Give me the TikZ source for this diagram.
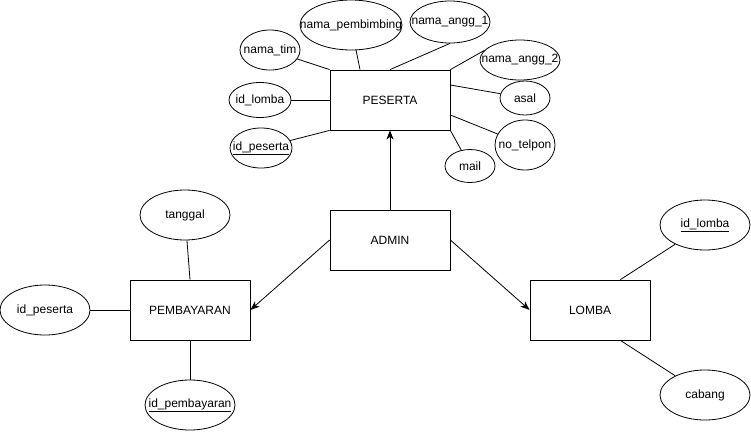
\documentclass[tikz,border=0pt]{standalone}
\usepackage{fontspec}
\setmainfont{Liberation Sans}
\usetikzlibrary{positioning, calc, shapes.geometric, arrows.meta, decorations.markings}
\tikzstyle{Arrow} = [
line width=0.8pt,
decoration={
markings,
mark=at position 0.9999 with {
\arrow[line width=0.8pt]{Stealth[length=9pt,width=7pt,inset=2.5pt]}}},
shorten >= 3pt, preaction = {decorate}]
\tikzstyle{Entity} = [rectangle, draw, line width=0.8pt,
minimum width=120pt, minimum height=60pt]
\tikzstyle{Attr} = [ellipse, draw, line width=0.8pt, inner sep=0pt]
\tikzstyle{Line} = [line width=0.8pt]

\begin{document}
\begin{tikzpicture}[x=1pt, y=-1pt, every node/.style={font=\fontsize{12}{14}\selectfont}]
    \useasboundingbox (0,0) rectangle (751,431);
    % entities
    \node [Entity] (1) at (390,100) {PESERTA};
    \node [Entity] (2) at (390,240) {ADMIN};
    \node [Entity] (3) at (190,310) {PEMBAYARAN};
    \node [Entity] (4) at (590,310) {LOMBA};
    % attributes of PESERTA
    \node [Attr, minimum width=60pt, minimum height=40pt] (5) at (270,50) {\makebox[0pt]{nama\_tim}};
    \node [Attr, minimum width=102pt, minimum height=50pt] (6) at (351,25) {\makebox[0pt]{nama\_pembimbing}};
    \node [Attr, minimum width=80pt, minimum height=42pt] (7) at (450,22) {\makebox[0pt]{nama\_angg\_1}};
    \node [Attr, minimum width=80pt, minimum height=40pt] (8) at (520,60) {\makebox[0pt]{nama\_angg\_2}};
    \node [Attr, minimum width=50pt, minimum height=34pt] (9) at (525,98) {\makebox[0pt]{asal}};
    \node [Attr, minimum width=60pt, minimum height=50pt] (10) at (525,145) {\makebox[0pt]{no\_telpon}};
    \node [Attr, minimum width=50pt, minimum height=33pt] (11) at (470,166) {\makebox[0pt]{mail}};
    \node [Attr, minimum width=62pt, minimum height=35pt] (12) at (260,100) {\makebox[0pt]{id\_lomba}};
    \node [Attr, minimum width=62pt, minimum height=40pt] (13) at (261,148) {\makebox[0pt]{\underline{id\_peserta}}};
    % attributes of PEMBAYARAN
    \node [Attr, minimum width=90pt, minimum height=50pt] (14) at (185,215) {tanggal};
    \node [Attr, minimum width=90pt, minimum height=50pt] (15) at (45,310) {id\_peserta};
    \node [Attr, minimum width=90pt, minimum height=50pt] (16) at (190,405) {\makebox[0pt]{\underline{id\_pembayaran}}};
    % attributes of LOMBA
    \node [Attr, minimum width=90pt, minimum height=50pt] (17) at (705,225) {\underline{id\_lomba}};
    \node [Attr, minimum width=90pt, minimum height=50pt] (18) at (705,395) {cabang};
    \draw [Line] (5) to (1.north west); \draw [Line] (6) to ($(1.north)+(-30,0)$);
    \draw [Line] (7.south) to (1.north); \draw [Line] (8.165) to (1.north east);
    \draw [Line] (9) to ($(1.east)+(0,-15)$); \draw [Line] (10) to ($(1.east)+(0,15)$);
    \draw [Line] (11) to (1.south east); \draw [Line] (12) to (1.west);
    \draw [Line] (13) to (1.south west);
    \draw [Line] (14) to (3.north); \draw [Line] (15) to (3.west);
    \draw [Line] (16) to (3.south);
    \draw [Line] (17) to (4.45); \draw [Line] (18) to (4.-45);
    \draw [Arrow] (2.north) to (1.south);
    \draw [Arrow] (2.west) to (3.east);
    \draw [Arrow] (2.east) to (4.west);
\end{tikzpicture}
\end{document}
